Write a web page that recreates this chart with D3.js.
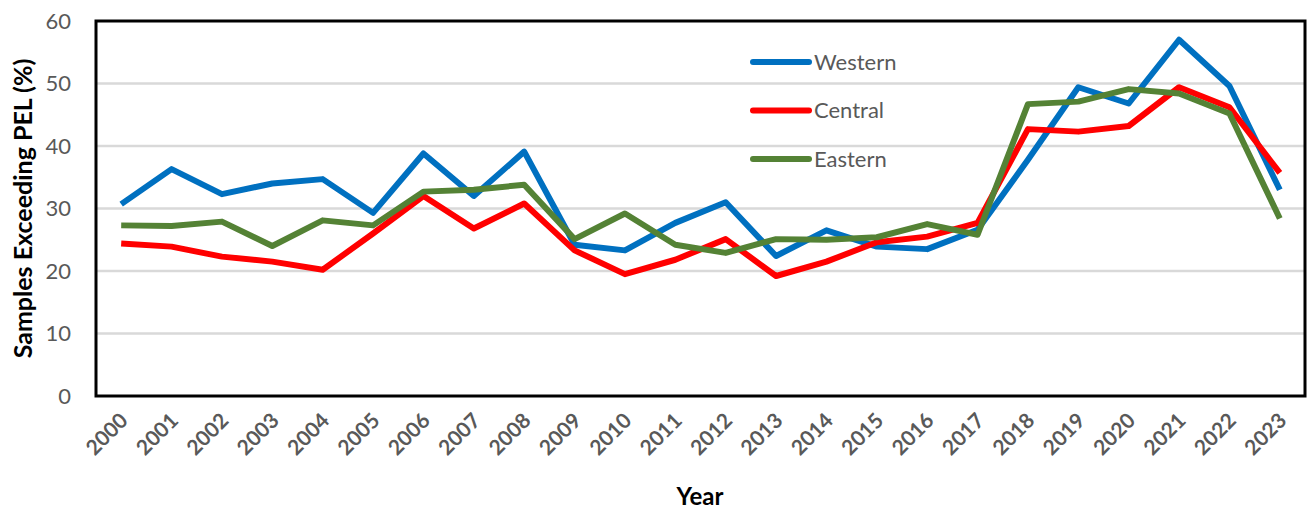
<!DOCTYPE html>
<html>
<head>
<meta charset="utf-8">
<script src="https://cdn.jsdelivr.net/npm/d3@7/dist/d3.min.js"></script>
<style>
  body { margin: 0; background: #fff; }
  svg { display: block; }
  .tick-y text { font-family: Lato, sans-serif; font-size: 22px; fill: #595959; }
  .tick-x text { font-family: Lato, sans-serif; font-size: 21px; font-weight: bold; fill: #595959; }
  .axis-title { font-family: Lato, sans-serif; font-weight: bold; fill: #000; }
  .legend text { font-family: Lato, sans-serif; font-size: 22px; fill: #595959; }
</style>
</head>
<body>
<svg id="chart" width="1310" height="515"></svg>
<script>
// DATA
const years = ["2000", "2001", "2002", "2003", "2004", "2005", "2006", "2007", "2008", "2009", "2010", "2011",
  "2012", "2013", "2014", "2015", "2016", "2017", "2018", "2019", "2020", "2021", "2022", "2023"];
const western = [30.7, 36.3, 32.3, 34.0, 34.7, 29.3, 38.8, 32.0, 39.1, 24.2, 23.3, 27.7,
  31.0, 22.4, 26.5, 23.9, 23.5, 26.6, 37.8, 49.4, 46.8, 57.0, 49.6, 33.0];
const central = [24.4, 23.9, 22.3, 21.5, 20.2, 26.0, 32.0, 26.8, 30.8, 23.3, 19.5, 21.8,
  25.1, 19.2, 21.5, 24.6, 25.5, 27.7, 42.7, 42.3, 43.2, 49.4, 46.2, 35.7];
const eastern = [27.3, 27.2, 27.9, 24.0, 28.1, 27.3, 32.7, 33.0, 33.8, 25.1, 29.2, 24.2,
  22.9, 25.1, 25.0, 25.4, 27.5, 25.8, 46.7, 47.1, 49.1, 48.4, 45.2, 28.4];
const yTicks = [0, 10, 20, 30, 40, 50, 60];

const series = [
  { name: "Western", values: western, color: "#0070C0" },
  { name: "Central", values: central, color: "#FF0000" },
  { name: "Eastern", values: eastern, color: "#548235" }
];

// LAYOUT
const margin = { top: 21, right: 5, bottom: 119, left: 96 };
const width = 1310, height = 515;
const innerW = width - margin.left - margin.right;
const innerH = height - margin.top - margin.bottom;

const svg = d3.select("#chart");
const g = svg.append("g").attr("transform", `translate(${margin.left},${margin.top})`);

// SCALES
const xScale = d3.scaleBand().domain(years).range([0, innerW]);
const yScale = d3.scaleLinear().domain([0, 60]).range([innerH, 0]);
const xPos = i => xScale(years[i]) + xScale.bandwidth() / 2;

// GRID
g.append("g")
  .selectAll("line")
  .data(yTicks.filter(t => t > 0 && t < 60))
  .join("line")
  .attr("x1", 0)
  .attr("x2", innerW)
  .attr("y1", d => yScale(d))
  .attr("y2", d => yScale(d))
  .attr("stroke", "#D9D9D9")
  .attr("stroke-width", 2.5);

// Y AXIS
const yAxis = d3.axisLeft(yScale).tickValues(yTicks).tickSize(0).tickPadding(25);
g.append("g").attr("class", "tick-y").call(yAxis).call(s => s.select(".domain").remove());

// X AXIS
const xAxis = d3.axisBottom(xScale).tickSize(0).tickPadding(0);
g.append("g")
  .attr("class", "tick-x")
  .attr("transform", `translate(0,${innerH})`)
  .call(xAxis)
  .call(s => s.select(".domain").remove())
  .selectAll("text")
  .attr("text-anchor", "end")
  .attr("dy", 0)
  .attr("transform", "translate(8,26) rotate(-45)");

// LINES
const line = d3.line()
  .x((d, i) => xPos(i))
  .y(d => yScale(d));

g.append("g")
  .selectAll("path")
  .data(series)
  .join("path")
  .attr("d", d => line(d.values))
  .attr("fill", "none")
  .attr("stroke", d => d.color)
  .attr("stroke-width", 6)
  .attr("stroke-linejoin", "round")
  .attr("stroke-linecap", "butt");

// FRAME
g.append("rect")
  .attr("width", innerW)
  .attr("height", innerH)
  .attr("fill", "none")
  .attr("stroke", "#000")
  .attr("stroke-width", 3);

// LEGEND
const legend = svg.append("g").attr("class", "legend").attr("transform", "translate(751,62)");
const items = legend.selectAll("g")
  .data(series)
  .join("g")
  .attr("transform", (d, i) => `translate(0,${i * 48.5})`);
items.append("line")
  .attr("x1", 2).attr("x2", 58)
  .attr("stroke", d => d.color)
  .attr("stroke-width", 6)
  .attr("stroke-linecap", "round");
items.append("text")
  .attr("x", 63)
  .attr("dy", "0.35em")
  .text(d => d.name);

// AXIS TITLES
svg.append("text")
  .attr("class", "axis-title")
  .attr("transform", `translate(32,${margin.top + innerH / 2}) rotate(-90)`)
  .attr("text-anchor", "middle")
  .attr("font-size", 25)
  .text("Samples Exceeding PEL (%)");

svg.append("text")
  .attr("class", "axis-title")
  .attr("x", 700)
  .attr("y", 505)
  .attr("text-anchor", "middle")
  .attr("font-size", 24)
  .text("Year");
</script>
</body>
</html>
